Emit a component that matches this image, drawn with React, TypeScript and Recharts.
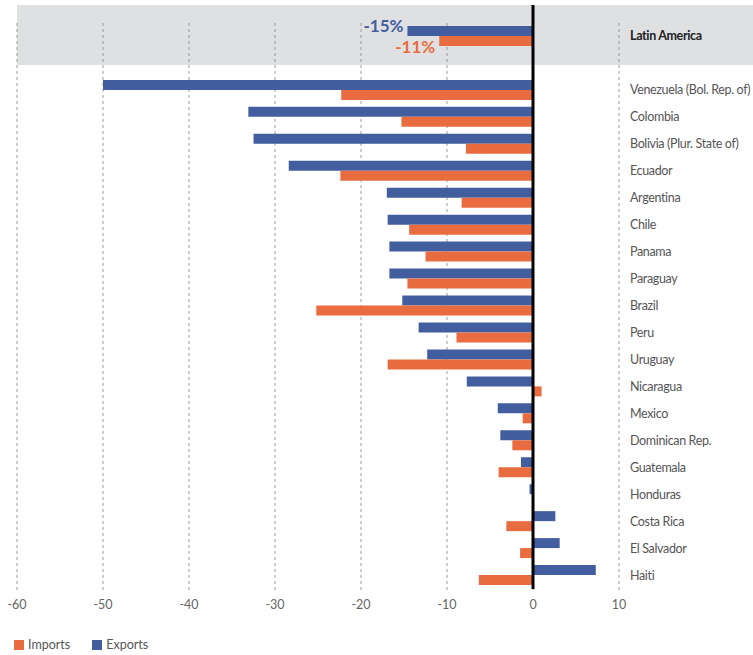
import { BarChart, Bar, XAxis, YAxis, CartesianGrid, ReferenceLine } from 'recharts';

const categories = [
  'Latin America',
  '',
  'Venezuela (Bol. Rep. of)',
  'Colombia',
  'Bolivia (Plur. State of)',
  'Ecuador',
  'Argentina',
  'Chile',
  'Panama',
  'Paraguay',
  'Brazil',
  'Peru',
  'Uruguay',
  'Nicaragua',
  'Mexico',
  'Dominican Rep.',
  'Guatemala',
  'Honduras',
  'Costa Rica',
  'El Salvador',
  'Haiti',
];

const exportsValues = [
  -14.6, null, -50.0, -33.1, -32.5, -28.4, -17.0, -16.9, -16.7, -16.7, -15.2, -13.3, -12.3, -7.7, -4.1, -3.8,
  -1.4, -0.4, 2.6, 3.1, 7.3,
];

const importsValues = [
  -10.9, null, -22.3, -15.3, -7.8, -22.4, -8.3, -14.4, -12.5, -14.6, -25.2, -8.9, -16.9, 1.0, -1.2, -2.4,
  -4.0, 0, -3.1, -1.5, -6.3,
];

const xTicks = [-60, -50, -40, -30, -20, -10, 0, 10];

const totalLabels = { exports: '-15%', imports: '-11%' };

const BLUE = '#425e9f';
const ORANGE = '#e96c40';
const FONT = "Lato, 'Noto Sans', sans-serif";

const data = categories.map((name, i) => ({
  name,
  exports: exportsValues[i],
  imports: importsValues[i],
}));

function CountryTick(props: any) {
  const { x, y, payload } = props;
  const isTotal = payload.value === 'Latin America';
  return (
    <text
      x={x}
      y={y}
      dy={4}
      textAnchor="start"
      fontFamily={FONT}
      fontSize={12.5}
      letterSpacing={-0.35}
      fontWeight={isTotal ? 700 : 400}
      fill={isTotal ? '#222' : '#555'}
    >
      {payload.value}
    </text>
  );
}

function totalLabel(text: string, color: string, dy: number) {
  return (props: any) => {
    const { x, y, width, height, index } = props;
    if (index !== 0) return null;
    const left = Math.min(x, x + width);
    return (
      <text
        x={left - 4}
        y={y + height / 2}
        dy={dy}
        textAnchor="end"
        fontFamily={FONT}
        fontSize={17}
        fontWeight={700}
        fill={color}
      >
        {text}
      </text>
    );
  };
}

export default function App() {
  return (
    <div style={{ position: 'absolute', left: 0, top: 0, width: 753, height: 655, background: '#fff', fontFamily: FONT }}>
      <div style={{ position: 'absolute', left: 17, top: 5, width: 736, height: 60, background: '#dfe0e2' }} />
      <div style={{ position: 'relative' }}>
        <BarChart
          width={753}
          height={620}
          data={data}
          layout="vertical"
          margin={{ top: 5, right: 0, bottom: 0, left: 17 }}
          barSize={10}
          barGap={0}
        >
          <CartesianGrid horizontal={false} stroke="#9a9a9a" strokeDasharray="3 3" y={23} height={570} />
          <XAxis
            type="number"
            domain={[-60, 10]}
            ticks={xTicks}
            axisLine={false}
            tickLine={false}
            tickSize={0}
            tickMargin={11}
            height={31}
            tick={{ fill: '#666', fontSize: 12.5, fontFamily: FONT }}
          />
          <YAxis
            type="category"
            dataKey="name"
            orientation="right"
            width={134}
            axisLine={false}
            tickLine={false}
            tickSize={0}
            tickMargin={11}
            interval={0}
            padding={{ top: 18, bottom: 0 }}
            tick={<CountryTick />}
          />
          <Bar dataKey="exports" name="Exports" fill={BLUE} isAnimationActive={false} label={totalLabel(totalLabels.exports, BLUE, 1)} />
          <Bar dataKey="imports" name="Imports" fill={ORANGE} isAnimationActive={false} label={totalLabel(totalLabels.imports, ORANGE, 12)} />
          <ReferenceLine x={0} stroke="#000" strokeWidth={3} />
        </BarChart>
      </div>
      <div style={{ position: 'absolute', left: 14, top: 638, display: 'flex', alignItems: 'center', fontSize: 12.5, color: '#555', lineHeight: '14px' }}>
        <span style={{ width: 10, height: 10, background: ORANGE, display: 'inline-block', marginRight: 4 }} />
        <span style={{ marginRight: 22 }}>Imports</span>
        <span style={{ width: 10, height: 10, background: BLUE, display: 'inline-block', marginRight: 4 }} />
        <span>Exports</span>
      </div>
    </div>
  );
}
